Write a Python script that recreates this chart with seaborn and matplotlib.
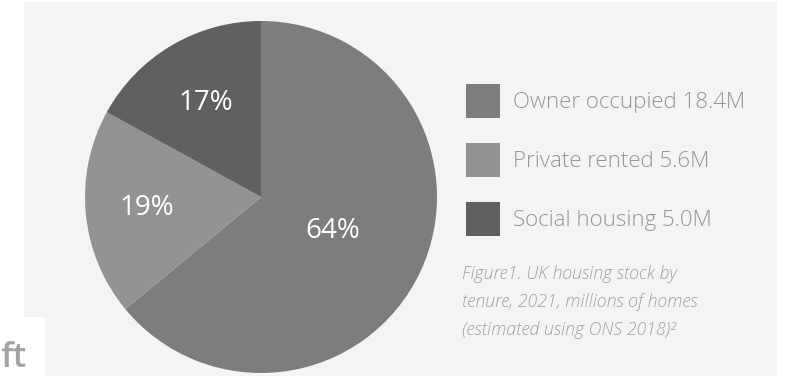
import matplotlib
matplotlib.use("Agg")
import matplotlib.pyplot as plt
from matplotlib.patches import Rectangle
import numpy as np
import seaborn as sns

categories = ["Owner occupied", "Private rented", "Social housing"]
homes_millions = [18.4, 5.6, 5.0]
shares_pct = [64, 19, 17]
legend_labels = ["Owner occupied 18.4M", "Private rented 5.6M", "Social housing 5.0M"]
pct_labels = ["64%", "19%", "17%"]
caption = "Figure1. UK housing stock by\ntenure, 2021, millions of homes\n(estimated using ONS 2018)\u00b2"

sns.set_theme(style="white")
plt.rcParams['font.family'] = ['Open Sans', 'DejaVu Sans']

colors = ["#7d7d7d", "#939393", "#606060"]

W, H = 787, 376
fig = plt.figure(figsize=(W / 100, H / 100), dpi=100)
fig.patch.set_facecolor("white")

# grey panel
fig.patches.append(Rectangle((24 / W, 0), (777 - 24) / W, (H - 2) / H,
                             transform=fig.transFigure, facecolor="#f4f4f4",
                             edgecolor="none", zorder=-3))
# white box bottom-left
fig.patches.append(Rectangle((0, 0), 45 / W, (H - 317) / H,
                             transform=fig.transFigure, facecolor="white",
                             edgecolor="none", zorder=-2))
fig.text(0.5 / W, 9 / H, "ft", ha="left", va="baseline", fontsize=25,
         color="#a3a3a3", fontweight="semibold", zorder=5)

cx, cy, r = 261, H - 197, 176
ax = fig.add_axes([(cx - r) / W, (cy - r) / H, 2 * r / W, 2 * r / H])
ax.set_zorder(3)
ax.set_facecolor("none")
wedges, _ = ax.pie(shares_pct, colors=colors, startangle=90, counterclock=False,
                   radius=1.0, wedgeprops=dict(linewidth=0))
ax.set_xlim(-1, 1)
ax.set_ylim(-1, 1)
ax.set_aspect("equal")
ax.axis("off")

dists = [0.45, 0.65, 0.62]
for w, lab, d in zip(wedges, pct_labels, dists):
    ang = np.deg2rad((w.theta1 + w.theta2) / 2)
    ax.text(d * np.cos(ang), d * np.sin(ang), lab, ha="center", va="center",
            color="white", fontsize=20, weight="medium")

leg = fig.legend(wedges, legend_labels, loc="upper left",
                 bbox_to_anchor=(466 / W, 1 - 84 / H), bbox_transform=fig.transFigure,
                 frameon=False, prop=dict(size=16, weight="light"),
                 handlelength=1.53, handleheight=1.98,
                 labelspacing=1.12, handletextpad=0.59, borderpad=0, borderaxespad=0)
leg.set_zorder(4)
for t in leg.get_texts():
    t.set_color("#959595")

fig.text(462 / W, 1 - 265 / H, caption, ha="left", va="top", fontsize=12.8,
         style="italic", weight="light", color="#a0a0a0", linespacing=1.7, zorder=4)

fig.savefig("out.png", dpi=100, facecolor=fig.get_facecolor())
